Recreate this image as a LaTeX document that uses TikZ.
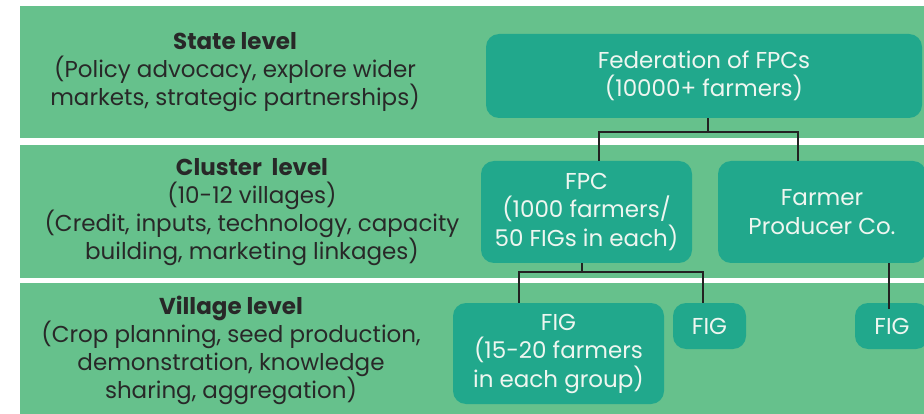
\documentclass[tikz,border=0pt]{standalone}
\usepackage{fontspec}
\setmainfont{Poppins}
\usetikzlibrary{calc}
\definecolor{bandgreen}{RGB}{102,193,140}
\definecolor{boxteal}{RGB}{33,168,140}
\definecolor{boxtext}{RGB}{238,246,240}
\definecolor{inktext}{RGB}{40,40,40}
\definecolor{linkcol}{RGB}{34,34,34}
\begin{document}
\begin{tikzpicture}[x=1pt,y=-1pt,
  band/.style={fill=bandgreen,draw=none},
  unit/.style={fill=boxteal,draw=none,rounded corners=13pt,text=boxtext,
    align=center,inner sep=0pt,font=\fontsize{23}{28.5}\selectfont},
  levelnote/.style={text=inktext,align=center,inner sep=0pt,
    font=\fontsize{23}{28}\selectfont},
  link/.style={draw=linkcol,line width=2.4pt}]
\useasboundingbox (0,0) rectangle (924,414);
\begin{scope}
\clip (0,0) rectangle (924,414);
% level bands
\fill[band] (20,6) rectangle (924,138);
\fill[band] (20,145) rectangle (924,278);
\fill[band] (20,283) rectangle (924,414);

% level descriptions
\node[levelnote] (state) at (235,72)
  {{\bfseries State level}\\(Policy advocacy, explore wider\\markets, strategic partnerships)};
\node[levelnote] (cluster) at (252,212)
  {{\bfseries Cluster\ \ level}\\(10-12 villages)\\(Credit, inputs, technology, capacity\\building, marketing linkages)};
\node[levelnote] (village) at (231,350)
  {{\bfseries Village level}\\(Crop planning, seed production,\\demonstration, knowledge\\sharing, aggregation)};

% organisation units
\node[unit,minimum width=436pt,minimum height=84pt] (fed) at (704,76)
  {Federation of FPCs\\(10000+ farmers)};
\node[unit,minimum width=211pt,minimum height=102pt] (fpc) at (586.5,212)
  {FPC\\(1000 farmers/\\50 FIGs in each)};
\node[unit,minimum width=208pt,minimum height=102pt] (fpu) at (822,212)
  {Farmer\\Producer Co.};
\node[unit,minimum width=211pt,minimum height=101pt] (fig1) at (558.5,353.5)
  {FIG\\(15-20 farmers\\in each group)};
\node[unit,minimum width=73pt,minimum height=46pt] (fig2) at (709.5,326) {FIG};
\node[unit,minimum width=74pt,minimum height=46pt] (fig3) at (892,326) {FIG};

% tree connectors
\coordinate (b1) at (708,132);
\coordinate (t1) at (599,0);
\coordinate (t2) at (798,0);
\draw[link] (fed.south -| b1) -- (b1);
\draw[link] (t1 |- fpc.north) |- (b1) -| (t2 |- fpu.north);

\coordinate (b2) at (582,272);
\coordinate (t3) at (519,0);
\coordinate (t4) at (703,0);
\draw[link] (fpc.south -| b2) -- (b2);
\draw[link] (t3 |- fig1.north) |- (b2) -| (t4 |- fig2.north);

\coordinate (t5) at (889,0);
\draw[link] (t5 |- fpu.south) -- ($(t5 |- fig3.north)+(0,6)$);
\end{scope}
\end{tikzpicture}
\end{document}
